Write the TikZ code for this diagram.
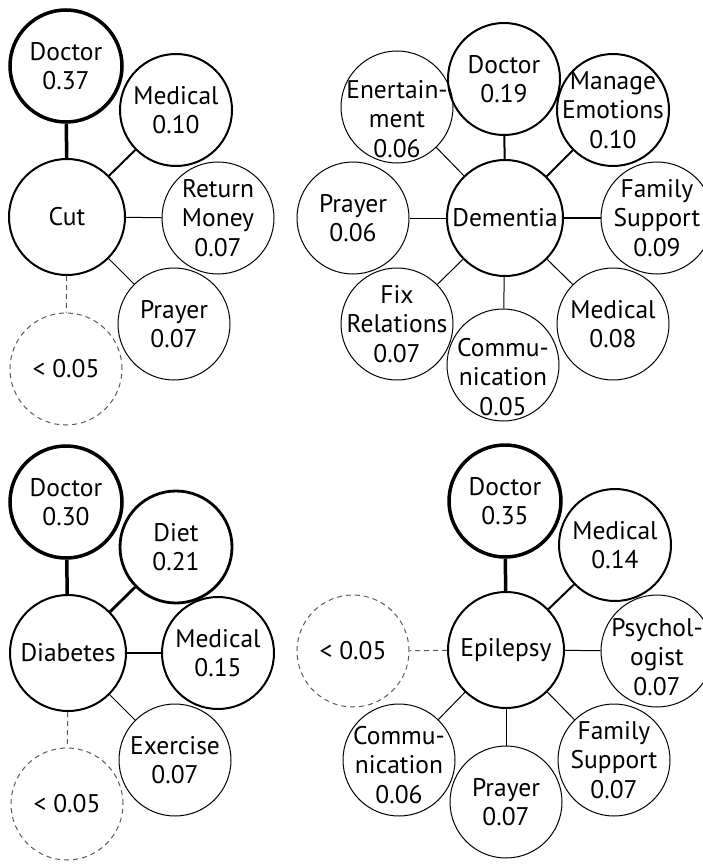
\documentclass[tikz,border=0pt]{standalone}
\usepackage{fontspec}
\setmainfont{PT Sans}
\begin{document}
\begin{tikzpicture}[x=1pt,y=-1pt,
  lbl/.style={align=center, inner sep=0pt, font=\fontsize{25.5}{29.5}\selectfont},
  circ/.style={circle, draw, minimum size=112pt, inner sep=0pt, line width=1pt},
  hub/.style={circ, minimum size=116pt, line width=2pt},
  wA/.style={line width=3.5pt},
  wB/.style={line width=2.8pt},
  wC/.style={line width=2pt},
  wD/.style={line width=1pt},
  low/.style={circ, draw=black!65, dash pattern=on 5pt off 4pt},
  lowline/.style={draw=black!65, line width=1pt, dash pattern=on 5pt off 4pt}
]
\useasboundingbox (0,0) rectangle (703,864);

% ---------- Cut ----------
\node[hub, label={[lbl]center:Cut}] (cut) at (67,217) {};
\node[circ, wA, label={[lbl]center:{Doctor\\0.37}}] (cutdoc) at (66,66) {};
\node[circ, wC, label={[lbl]center:{Medical\\0.10}}] (cutmed) at (176,110) {};
\node[circ, label={[lbl]center:{Return\\Money\\0.07}}] (cutret) at (218,218) {};
\node[circ, label={[lbl]center:{Prayer\\0.07}}] (cutpray) at (174,324) {};
\node[low, label={[lbl]center:{< 0.05}}] (cutlow) at (66,369) {};
\draw[wA] (cut) -- (cutdoc);
\draw[wC] (cut) -- (cutmed);
\draw[wD] (cut) -- (cutret);
\draw[wD] (cut) -- (cutpray);
\draw[lowline] (cut) -- (cutlow);

% ---------- Dementia ----------
\node[hub, label={[lbl]center:Dementia}] (dem) at (505,218) {};
\node[circ, wC, label={[lbl]center:{Doctor\\0.19}}] (demdoc) at (504,79) {};
\node[circ, wC, label={[lbl]center:{Manage\\Emotions\\0.10}}] (demman) at (613,110) {};
\node[circ, label={[lbl, yshift=-12pt]center:{Enertain-\\ment\\0.06}}] (dement) at (397,107) {};
\node[circ, label={[lbl]center:{Prayer\\0.06}}] (dempray) at (353,218) {};
\node[circ, label={[lbl]center:{Family\\Support\\0.09}}] (demfam) at (657,218) {};
\node[circ, label={[lbl]center:{Medical\\0.08}}] (demmed) at (613,324) {};
\node[circ, label={[lbl, yshift=-12pt]center:{Commu-\\nication\\0.05}}] (demcom) at (503,365) {};
\node[circ, label={[lbl]center:{Fix\\Relations\\0.07}}] (demfix) at (397,324) {};
\draw[wC] (dem) -- (demdoc);
\draw[wC] (dem) -- (demman);
\draw[wD] (dem) -- (dement);
\draw[wD] (dem) -- (dempray);
\draw[line width=1.8pt] (dem) -- (demfam);
\draw[wD] (dem) -- (demmed);
\draw[wD] (dem) -- (demcom);
\draw[wD] (dem) -- (demfix);

% ---------- Diabetes ----------
\node[hub, label={[lbl]center:Diabetes}] (dia) at (68,653) {};
\node[circ, wA, label={[lbl]center:{Doctor\\0.30}}] (diadoc) at (66,502) {};
\node[circ, wB, label={[lbl]center:{Diet\\0.21}}] (diadiet) at (176,547) {};
\node[circ, wC, label={[lbl]center:{Medical\\0.15}}] (diamed) at (218,653) {};
\node[circ, label={[lbl]center:{Exercise\\0.07}}] (diaex) at (175,760) {};
\node[low, label={[lbl]center:{< 0.05}}] (dialow) at (67,804) {};
\draw[wA] (dia) -- (diadoc);
\draw[wB] (dia) -- (diadiet);
\draw[wC] (dia) -- (diamed);
\draw[wD] (dia) -- (diaex);
\draw[lowline] (dia) -- (dialow);

% ---------- Epilepsy ----------
\node[hub, label={[lbl]center:Epilepsy}] (epi) at (506,650) {};
\node[circ, wA, label={[lbl]center:{Doctor\\0.35}}] (epidoc) at (505,501) {};
\node[circ, wC, label={[lbl]center:{Medical\\0.14}}] (epimed) at (615,545) {};
\node[circ, label={[lbl, yshift=-6pt]center:{Psychol-\\ogist\\0.07}}] (epipsy) at (657,651) {};
\node[circ, label={[lbl]center:{Family\\Support\\0.07}}] (epifam) at (614,760) {};
\node[circ, label={[lbl]center:{Prayer\\0.07}}] (epipray) at (506,802) {};
\node[circ, label={[lbl, yshift=-5pt]center:{Commu-\\nication\\0.06}}] (epicom) at (399,760) {};
\node[low, label={[lbl]center:{< 0.05}}] (epilow) at (353,651) {};
\draw[wA] (epi) -- (epidoc);
\draw[wC] (epi) -- (epimed);
\draw[wD] (epi) -- (epipsy);
\draw[wD] (epi) -- (epifam);
\draw[wD] (epi) -- (epipray);
\draw[wD] (epi) -- (epicom);
\draw[lowline] (epi) -- (epilow);
\end{tikzpicture}
\end{document}
